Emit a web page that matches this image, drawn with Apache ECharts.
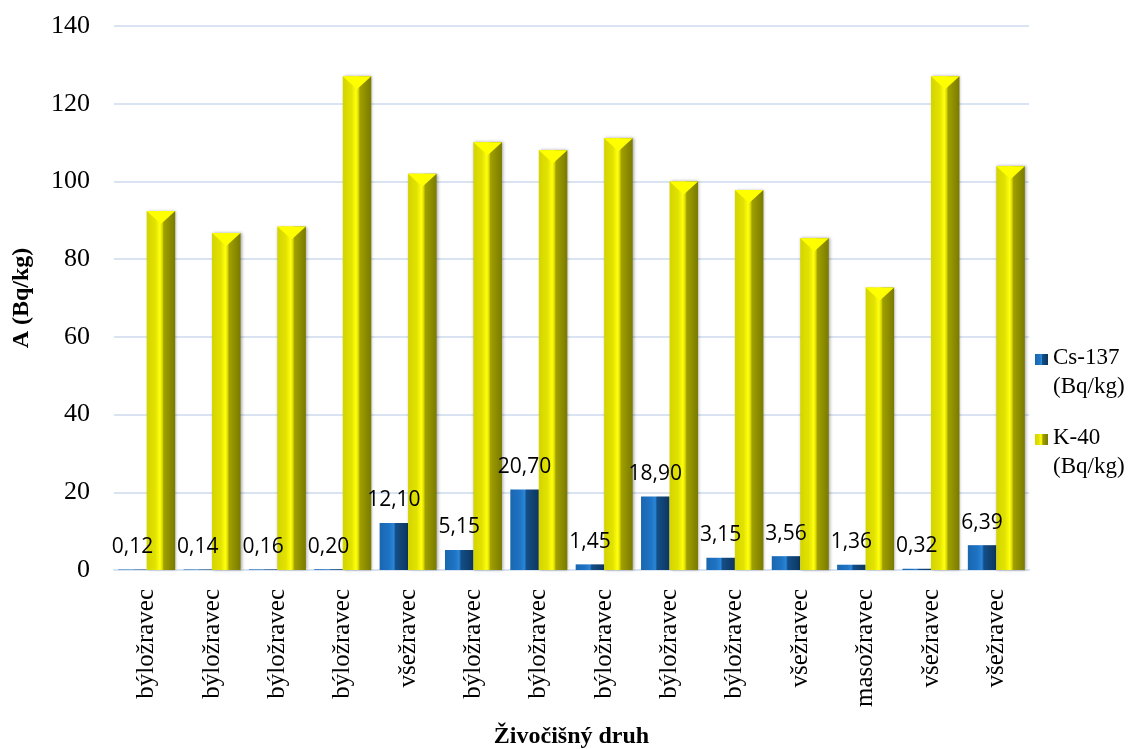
<!DOCTYPE html>
<html>
<head>
<meta charset="utf-8">
<script src="https://cdn.jsdelivr.net/npm/echarts@6/dist/echarts.min.js"></script>
<style>
html,body{margin:0;padding:0;background:#fff;}
#chart{width:1128px;height:749px;}
</style>
</head>
<body>
<div id="chart"></div>
<script>
const categories = ['býložravec','býložravec','býložravec','býložravec','všežravec','býložravec','býložravec','býložravec','býložravec','býložravec','všežravec','masožravec','všežravec','všežravec'];
const cs137 = [0.12,0.14,0.16,0.20,12.10,5.15,20.70,1.45,18.90,3.15,3.56,1.36,0.32,6.39];
const k40 = [92.4,86.7,88.4,127.1,102.0,110.1,108.0,111.1,100.0,97.8,85.4,72.7,127.1,103.9];
const yTicks = [0,20,40,60,80,100,120,140];

const serif = '"Liberation Serif","Times New Roman",serif';
const sans = '"Open Sans","Noto Sans",sans-serif';

const blueGrad = new echarts.graphic.LinearGradient(0,0,1,0,[
  {offset:0,color:'#1a66b0'},
  {offset:0.35,color:'#1f74c4'},
  {offset:0.5,color:'#2a86d8'},
  {offset:0.56,color:'#144f88'},
  {offset:1,color:'#0c365f'}
]);
const yellowGrad = new echarts.graphic.LinearGradient(0,0,1,0,[
  {offset:0,color:'#d4d400'},
  {offset:0.3,color:'#e2e200'},
  {offset:0.47,color:'#ffff10'},
  {offset:0.55,color:'#d8d800'},
  {offset:0.6,color:'#a0a000'},
  {offset:1,color:'#7a7a00'}
]);
const legendIcon = 'path://M0,0h13v11h-13z M0,36h0.001v0.001h-0.001z';

const chart = echarts.init(document.getElementById('chart'), null, {renderer:'canvas'});
chart.setOption({
  animation:false,
  backgroundColor:'#ffffff',
  grid:{left:114,right:99,top:26,bottom:179,containLabel:false,outerBoundsMode:'none'},
  legend:{
    data:['Cs-137','K-40'],
    orient:'vertical',
    left:1035,
    top:343,
    padding:0,
    itemWidth:13,
    itemHeight:36,
    itemGap:22,
    icon:legendIcon,
    formatter:function(n){return n+'\n(Bq/kg)';},
    textStyle:{fontFamily:serif,fontSize:23,color:'#000',lineHeight:29}
  },
  xAxis:{
    type:'category',
    data:categories,
    name:'Živočišný druh',
    nameLocation:'middle',
    nameGap:155,
    nameTextStyle:{fontFamily:serif,fontSize:24,fontWeight:'bold',color:'#000'},
    axisLine:{show:true,lineStyle:{color:'#d9e3f1',width:2}},
    axisTick:{show:false},
    axisLabel:{rotate:90,fontFamily:serif,fontSize:25,color:'#000',margin:19,interval:0}
  },
  yAxis:{
    type:'value',
    min:0,max:140,interval:20,
    name:'A (Bq/kg)',
    nameLocation:'middle',
    nameRotate:90,
    nameGap:80,
    nameTextStyle:{fontFamily:serif,fontSize:24,fontWeight:'bold',color:'#000'},
    axisLine:{show:false},
    axisTick:{show:false},
    axisLabel:{fontFamily:serif,fontSize:26,color:'#000',margin:24},
    splitLine:{lineStyle:{color:'#d9e3f1',width:2}}
  },
  series:[
    {
      name:'Cs-137',
      type:'bar',
      data:cs137,
      barWidth:'43.6%',
      barGap:'0%',
      itemStyle:{color:blueGrad},
      label:{
        show:true,position:'top',distance:12,
        fontFamily:sans,fontSize:21,color:'#000',
        formatter:function(p){return p.value.toFixed(2).replace('.',',');}
      },
      z:2
    },
    {
      name:'K-40',
      type:'bar',
      data:k40,
      barWidth:'43.6%',
      barGap:'0%',
      itemStyle:{color:yellowGrad,shadowColor:'rgba(0,0,0,0.35)',shadowBlur:3,shadowOffsetX:1},
      z:2
    },
    {
      name:'csTop',
      type:'pictorialBar',
      data:cs137,
      barWidth:'43.6%',
      barGap:'0%',
      symbol:'rect',
      symbolSize:['100%',0.1],
      symbolPosition:'end',
      itemStyle:{color:'rgba(0,0,0,0)'},
      silent:true,
      z:3
    },
    {
      name:'kTop',
      type:'pictorialBar',
      data:k40,
      barWidth:'43.6%',
      barGap:'0%',
      symbol:'path://M0,0 L2,0 L1,1 Z',
      symbolSize:['100%',13],
      symbolPosition:'end',
      itemStyle:{color:'#ffff00'},
      silent:true,
      z:3
    }
  ]
});
</script>
</body>
</html>
